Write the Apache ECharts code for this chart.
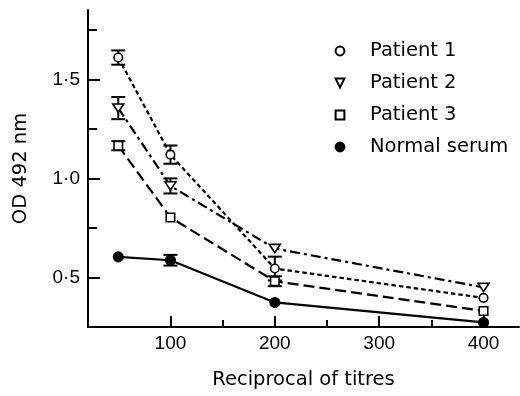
<!DOCTYPE html>
<html><head><meta charset="utf-8">
<script src="https://cdn.jsdelivr.net/npm/echarts@6/dist/echarts.min.js"></script>
<style>html,body{margin:0;padding:0;background:#fff}#c{width:520px;height:396px}</style>
</head><body><div id="c"></div>
<script>
const titres = [50, 100, 200, 400];
const patient1 = [1.61, 1.12, 0.545, 0.397];
const patient2 = [1.355, 0.962, 0.646, 0.45];
const patient3 = [1.165, 0.803, 0.481, 0.331];
const normalSerum = [0.604, 0.587, 0.374, 0.273];
const err1 = [0.036, 0.046, 0.06, null];
const err2 = [0.056, 0.038, null, null];
const err3 = [0.023, null, 0.025, null];
const errN = [null, 0.027, null, null];
const yTickLabels = [0.5, 1.0, 1.5];
const yMinorTicks = [0.75, 1.25, 1.75];
const xTickLabels = [100, 200, 300, 400];
const xMinorTicks = [150, 250, 350];

const TRI = 'path://M0,0L12,0L6,10Z';
const txtFont = 'DejaVu Sans';
const numFont = 'Liberation Sans';

function pts(v) { return titres.map((x, i) => [x, v[i]]); }
function errPts(v, e) {
  const out = [];
  titres.forEach((x, i) => { if (e[i] != null) out.push([x, v[i], e[i]]); });
  return out;
}
function lineSeries(name, v, symbol, size, fill, dash) {
  return {
    name, type: 'line', data: pts(v), symbol, symbolSize: size, symbolKeepAspect: true,
    itemStyle: { color: fill, borderColor: '#000', borderWidth: 1.6 },
    lineStyle: { color: '#000', width: 2.2, type: dash },
    z: 3, emphasis: { disabled: true }, silent: true
  };
}
function errSeries(v, e) {
  return {
    type: 'custom', data: errPts(v, e), z: 2, silent: true,
    renderItem(params, api) {
      const x = api.value(0), y = api.value(1), d = api.value(2);
      const t = api.coord([x, y + d]), b = api.coord([x, y - d]);
      const w = 7, st = { stroke: '#000', lineWidth: 2 };
      return { type: 'group', children: [
        { type: 'line', shape: { x1: t[0], y1: t[1], x2: b[0], y2: b[1] }, style: st },
        { type: 'line', shape: { x1: t[0] - w, y1: t[1], x2: t[0] + w, y2: t[1] }, style: st },
        { type: 'line', shape: { x1: b[0] - w, y1: b[1], x2: b[0] + w, y2: b[1] }, style: st }
      ]};
    }
  };
}

const chart = echarts.init(document.getElementById('c'));
chart.setOption({
  animation: false,
  grid: { left: 88, right: 1, top: 10, bottom: 69 },
  legend: {
    orient: 'vertical', left: 310, top: 36, itemWidth: 50, itemHeight: 11, itemGap: 12,
    lineStyle: { opacity: 0, width: 0 },
    textStyle: { fontFamily: txtFont, fontSize: 19.5, color: '#000' },
    data: ['Patient 1', 'Patient 2', 'Patient 3', 'Normal serum'],
    selectedMode: false
  },
  xAxis: [{
    type: 'value', min: 21, max: 434,
    name: 'Reciprocal of titres', nameLocation: 'middle', nameGap: 43,
    nameTextStyle: { fontFamily: txtFont, fontSize: 19.5, color: '#000' },
    axisLine: { lineStyle: { color: '#000', width: 2 } },
    axisTick: { inside: true, length: 11, lineStyle: { color: '#000', width: 2 }, customValues: xTickLabels },
    axisLabel: { customValues: xTickLabels, fontFamily: numFont, fontSize: 19, color: '#000', margin: 7 },
    splitLine: { show: false }
  }, {
    type: 'value', min: 21, max: 434, position: 'bottom',
    axisLine: { show: false },
    axisTick: { inside: true, length: 7, lineStyle: { color: '#000', width: 2 }, customValues: xMinorTicks },
    axisLabel: { show: false }, splitLine: { show: false }
  }],
  yAxis: [{
    type: 'value', min: 0.25, max: 1.85,
    name: 'OD 492 nm', nameLocation: 'middle', nameGap: 57, nameRotate: 90,
    nameTextStyle: { fontFamily: txtFont, fontSize: 19.5, color: '#000' },
    axisLine: { lineStyle: { color: '#000', width: 2 } },
    axisTick: { inside: true, length: 12, lineStyle: { color: '#000', width: 2 }, customValues: yTickLabels },
    axisLabel: { customValues: yTickLabels, fontFamily: numFont, fontSize: 19, color: '#000', margin: 8,
      formatter: v => v.toFixed(1).replace('.', '\u00b7') },
    splitLine: { show: false }
  }, {
    type: 'value', min: 0.25, max: 1.85, position: 'left',
    axisLine: { show: false },
    axisTick: { inside: true, length: 9, lineStyle: { color: '#000', width: 2 }, customValues: yMinorTicks },
    axisLabel: { show: false }, splitLine: { show: false }
  }],
  series: [
    errSeries(patient1, err1), errSeries(patient2, err2), errSeries(patient3, err3), errSeries(normalSerum, errN),
    lineSeries('Patient 1', patient1, 'circle', 8.5, '#fff', [4.5, 3]),
    lineSeries('Patient 2', patient2, TRI, [11, 10], '#fff', [10, 4, 3, 4]),
    lineSeries('Patient 3', patient3, 'rect', 8.5, '#fff', [11, 5]),
    lineSeries('Normal serum', normalSerum, 'circle', 9.5, '#000', 'solid')
  ]
});
</script></body></html>
